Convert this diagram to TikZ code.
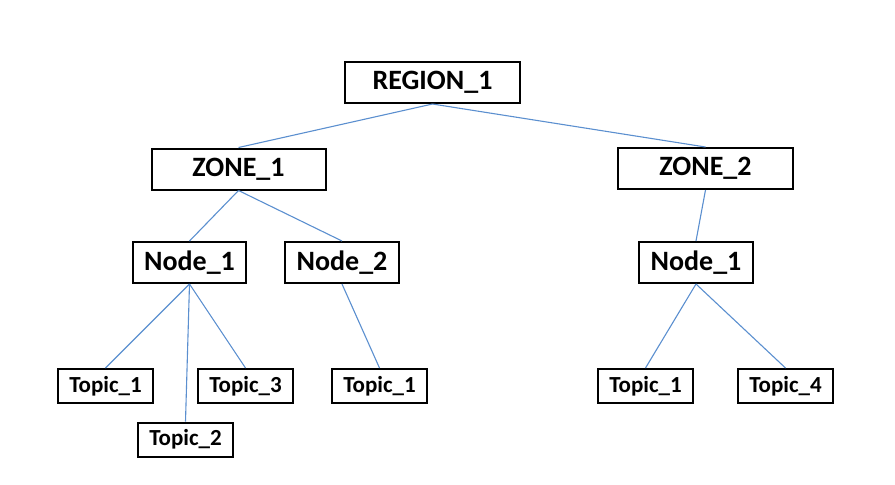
\documentclass[tikz,border=0pt]{standalone}
\usepackage{fontspec}
\setmainfont{Carlito}
\usepackage{xcolor}
\usepackage{tikz}
\usetikzlibrary{positioning}
\definecolor{linkblue}{RGB}{91,143,207}

\begin{document}
\begin{tikzpicture}[x=0.5pt, y=-0.5pt, font=\bfseries]
  % pixel grid of the original drawing, origin top left
  \useasboundingbox (0,0) rectangle (895,484);
  \tikzset{lvl/.style={draw, line width=1pt, inner sep=0pt,
                       minimum width=#1, minimum height=20.5pt,
                       font=\fontsize{14}{16}\bfseries},
           tpc/.style={draw, line width=1pt, inner sep=0pt,
                       minimum width=47.5pt, minimum height=17pt,
                       font=\fontsize{11.5}{13}\bfseries},
           link/.style={draw=linkblue, line width=0.55pt}}
  \node[lvl=87.5pt] (reg) at (432.5,82.5)  {REGION\_1};
  \node[lvl=87pt]   (z1)  at (238.5,169)   {ZONE\_1};
  \node[lvl=87.5pt] (z2)  at (705.5,168.5) {ZONE\_2};

  \node[lvl=56.5pt] (n1) at (189.5,262.5) {Node\_1};
  \node[lvl=57pt]   (n2) at (342,262.5)   {Node\_2};
  \node[lvl=57pt]   (n3) at (696,262.5)   {Node\_1};

  \node[tpc] (t1) at (105.5,386)   {Topic\_1};
  \node[tpc] (t2) at (185.5,439.5) {Topic\_2};
  \node[tpc] (t3) at (245.5,386)   {Topic\_3};
  \node[tpc] (t4) at (379.5,386)   {Topic\_1};
  \node[tpc] (t5) at (645.5,386)   {Topic\_1};
  \node[tpc] (t6) at (785.5,386)   {Topic\_4};

  \draw[link] (reg.south)--(z1.north); \draw[link] (reg.south)--(z2.north);
  \draw[link] (z1.south)--(n1.north);  \draw[link] (z1.south)--(n2.north);
  \draw[link] (z2.south)--(n3.north);
  \draw[link] (n1.south)--(t1.north);  \draw[link] (n1.south)--(t2.north);
  \draw[link] (n1.south)--(t3.north);  \draw[link] (n2.south)--(t4.north);
  \draw[link] (n3.south)--(t5.north);  \draw[link] (n3.south)--(t6.north);
\end{tikzpicture}
\end{document}
